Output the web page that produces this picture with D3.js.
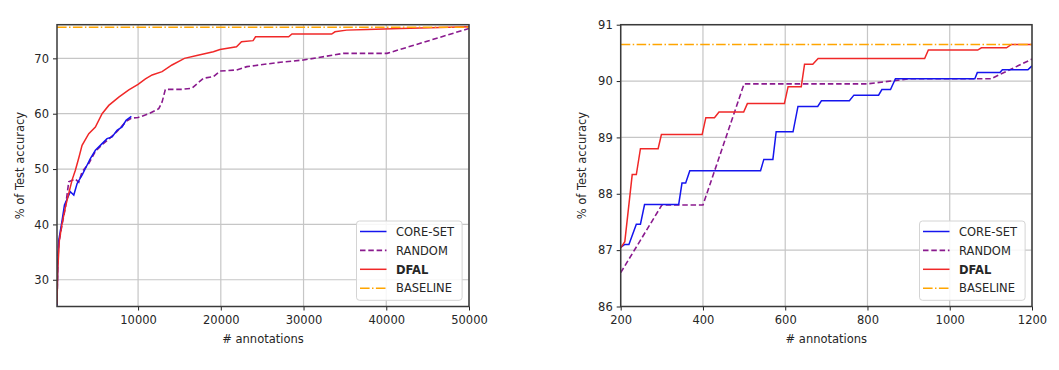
<!DOCTYPE html>
<html>
<head>
<meta charset="utf-8">
<script src="https://cdn.jsdelivr.net/npm/d3@7"></script>
<style>
  body { margin: 0; background: #fff; }
  svg { display: block; font-family: "DejaVu Sans", sans-serif; }
</style>
</head>
<body>
<div class="visHolder"></div>
<script>
// ---- left panel: large annotation budget ----
const leftCoreset = [[200, 25.4], [290, 33.0], [410, 37.1], [810, 40.7], [1100, 43.5], [1420, 44.6], [1810, 45.9],
  [2230, 45.3], [2630, 47.4], [3230, 48.9], [3630, 50.1], [4230, 51.9], [4840, 53.4], [5650, 54.6], [6250, 55.5],
  [6860, 55.8], [7460, 57.0], [8070, 57.6], [8550, 58.8], [9190, 59.5]];
const leftRandom = [[200, 25.3], [290, 33.0], [410, 36.5], [810, 40.0], [1210, 43.0], [1620, 47.7], [2420, 48.2],
  [2830, 47.6], [3230, 49.5], [4040, 51.0], [4840, 53.2], [5650, 54.4], [6460, 55.4], [7460, 56.8], [8070, 57.8],
  [8550, 58.6], [9190, 59.2], [10000, 59.3], [11300, 60.0], [12500, 60.9], [12900, 62.1], [13300, 64.4],
  [15300, 64.4], [16500, 64.6], [17900, 66.4], [19100, 66.7], [19900, 67.7], [21900, 67.9], [23150, 68.5],
  [27200, 69.3], [30000, 69.7], [34800, 70.9], [40100, 70.9], [50000, 75.4]];
const leftDfal = [[200, 25.6], [290, 31.7], [484, 37.1], [810, 40.1], [1210, 43.1], [1620, 45.6], [2020, 48.0],
  [2420, 49.8], [2830, 52.0], [3230, 54.3], [4040, 56.4], [4840, 57.6], [5650, 60.0], [6460, 61.5], [7670, 63.0],
  [8880, 64.3], [10000, 65.3], [10890, 66.3], [11700, 67.0], [12900, 67.6], [14100, 68.8], [15100, 69.6],
  [15600, 70.0], [17100, 70.5], [19100, 71.2], [19900, 71.6], [21900, 72.1], [22500, 73.0], [23900, 73.2],
  [24200, 73.9], [28200, 73.9], [28600, 74.4], [33400, 74.4], [33800, 74.8], [35200, 75.1], [37700, 75.2],
  [41700, 75.4], [50000, 75.7]];
const leftBaseline = 75.6;
const leftXTicks = [10000, 20000, 30000, 40000, 50000];
const leftYTicks = [30, 40, 50, 60, 70];

// ---- right panel: small annotation budget ----
const rightCoreset = [[200, 87.05], [210, 87.1], [220, 87.1], [238, 87.46], [248, 87.46], [258, 87.81], [341, 87.81],
  [349, 88.19], [358, 88.19], [368, 88.41], [540, 88.41], [548, 88.61], [570, 88.61], [578, 89.1], [619, 89.1],
  [631, 89.55], [679, 89.55], [688, 89.65], [756, 89.65], [767, 89.75], [827, 89.75], [835, 89.85], [856, 89.85],
  [868, 90.04], [1061, 90.04], [1067, 90.15], [1122, 90.15], [1128, 90.2], [1190, 90.2], [1200, 90.27]];
const rightRandom = [[200, 86.6], [300, 87.8], [400, 87.8], [500, 89.95], [600, 89.95], [700, 89.95], [800, 89.95],
  [900, 90.04], [1000, 90.04], [1100, 90.04], [1200, 90.39]];
const rightDfal = [[200, 87.04], [210, 87.15], [228, 88.34], [238, 88.34], [248, 88.8], [291, 88.8], [299, 89.05],
  [398, 89.05], [407, 89.35], [428, 89.35], [439, 89.45], [499, 89.45], [508, 89.6], [598, 89.6], [607, 89.9],
  [639, 89.9], [647, 90.3], [667, 90.3], [680, 90.4], [939, 90.4], [948, 90.55], [1068, 90.55], [1077, 90.59],
  [1138, 90.59], [1150, 90.65], [1200, 90.65]];
const rightBaseline = 90.65;
const rightXTicks = [200, 400, 600, 800, 1000, 1200];
const rightYTicks = [86, 87, 88, 89, 90, 91];

const legendNames = ["CORE-SET", "RANDOM", "DFAL", "BASELINE"];

const width = 1059;
const height = 370;
const plotTop = 24.7;
const plotBottom = 306.5;

const svg = d3.select(".visHolder")
  .append("svg")
  .attr("width", width)
  .attr("height", height);

function drawPanel(opt) {
  const xScale = d3.scaleLinear().domain(opt.xDomain).range([opt.left, opt.right]);
  const yScale = d3.scaleLinear().domain(opt.yDomain).range([plotBottom, plotTop]);
  const g = svg.append("g");

  // grid
  g.append("g").selectAll("line").data(opt.xTicks).enter().append("line")
    .attr("x1", d => xScale(d)).attr("x2", d => xScale(d))
    .attr("y1", plotTop).attr("y2", plotBottom)
    .attr("stroke", "#c6c6c6").attr("stroke-width", 1.2);
  g.append("g").selectAll("line").data(opt.yTicks).enter().append("line")
    .attr("x1", opt.left).attr("x2", opt.right)
    .attr("y1", d => yScale(d)).attr("y2", d => yScale(d))
    .attr("stroke", "#c6c6c6").attr("stroke-width", 1.2);

  const clipId = "clip" + opt.id;
  svg.append("clipPath").attr("id", clipId).append("rect")
    .attr("x", opt.left).attr("y", plotTop)
    .attr("width", opt.right - opt.left).attr("height", plotBottom - plotTop);

  const line = d3.line().x(d => xScale(d[0])).y(d => yScale(d[1]));
  const lines = g.append("g").attr("clip-path", "url(#" + clipId + ")");

  lines.append("path").datum(opt.random)
    .attr("d", line).attr("fill", "none")
    .attr("stroke", "#8a1a8e").attr("stroke-width", 1.6)
    .attr("stroke-dasharray", "5.5,2.8");
  lines.append("path").datum(opt.coreset)
    .attr("d", line).attr("fill", "none")
    .attr("stroke", "#1515ee").attr("stroke-width", 1.5);
  lines.append("path").datum(opt.dfal)
    .attr("d", line).attr("fill", "none")
    .attr("stroke", "#f02828").attr("stroke-width", 1.5);
  lines.append("line")
    .attr("x1", opt.left).attr("x2", opt.right)
    .attr("y1", yScale(opt.baseline)).attr("y2", yScale(opt.baseline))
    .attr("stroke", "#ffa500").attr("stroke-width", 1.5)
    .attr("stroke-dasharray", "9.6,2.4,1.5,2.4");

  // axes
  const xAxis = d3.axisBottom(xScale).tickValues(opt.xTicks).tickSize(4).tickPadding(5).tickFormat(d3.format("d"));
  const yAxis = d3.axisLeft(yScale).tickValues(opt.yTicks).tickSize(4).tickPadding(4).tickFormat(d3.format("d"));
  const gx = g.append("g").attr("transform", "translate(0," + plotBottom + ")").call(xAxis);
  const gy = g.append("g").attr("transform", "translate(" + opt.left + ",0)").call(yAxis);
  [gx, gy].forEach(a => {
    a.select(".domain").remove();
    a.selectAll("line").attr("stroke", "#222").attr("stroke-width", 1);
    a.selectAll("text").attr("fill", "#262626").style("font-size", "11.5px").style("font-family", "DejaVu Sans");
  });

  // spines
  g.append("rect")
    .attr("x", opt.left).attr("y", plotTop)
    .attr("width", opt.right - opt.left).attr("height", plotBottom - plotTop)
    .attr("fill", "none").attr("stroke", "#3a3a3a").attr("stroke-width", 1.5);

  // labels
  g.append("text")
    .attr("x", (opt.left + opt.right) / 2).attr("y", 343)
    .attr("text-anchor", "middle").attr("fill", "#262626").style("font-size", "11.5px")
    .text("# annotations");
  g.append("text")
    .attr("transform", "translate(" + opt.yLabelX + "," + (plotTop + plotBottom) / 2 + ") rotate(-90)")
    .attr("text-anchor", "middle").attr("fill", "#262626").style("font-size", "11.5px")
    .text("% of Test accuracy");

  // legend
  const lx = opt.right - 112.5;
  const ly = plotBottom - 85.5;
  const leg = g.append("g").attr("transform", "translate(" + lx + "," + ly + ")");
  leg.append("rect")
    .attr("width", 105.6).attr("height", 79.3).attr("rx", 3)
    .attr("fill", "#fff").attr("fill-opacity", 0.85)
    .attr("stroke", "#d4d4d4").attr("stroke-width", 1);
  const styles = [
    { c: "#1515ee", dash: null, w: 1.5 },
    { c: "#8a1a8e", dash: "5.5,2.8", w: 1.6 },
    { c: "#f02828", dash: null, w: 1.5 },
    { c: "#ffa500", dash: "9.6,2.4,1.5,2.4", w: 1.5 }
  ];
  legendNames.forEach((name, i) => {
    const yy = 10.5 + i * 18.9;
    leg.append("line")
      .attr("x1", 3.5).attr("x2", 30).attr("y1", yy).attr("y2", yy)
      .attr("stroke", styles[i].c).attr("stroke-width", styles[i].w)
      .attr("stroke-dasharray", styles[i].dash);
    leg.append("text")
      .attr("x", 39.5).attr("y", yy + 4.2)
      .attr("fill", "#262626").style("font-size", "11.5px")
      .style("font-weight", name === "DFAL" ? "bold" : "normal")
      .text(name);
  });
}

drawPanel({
  id: "L", left: 57, right: 469, xDomain: [200, 50000], yDomain: [25.17, 76.08],
  xTicks: leftXTicks, yTicks: leftYTicks, yLabelX: 24,
  coreset: leftCoreset, random: leftRandom, dfal: leftDfal, baseline: leftBaseline
});
drawPanel({
  id: "R", left: 620.7, right: 1032, xDomain: [200, 1200], yDomain: [86, 91],
  xTicks: rightXTicks, yTicks: rightYTicks, yLabelX: 586,
  coreset: rightCoreset, random: rightRandom, dfal: rightDfal, baseline: rightBaseline
});
</script>
</body>
</html>
